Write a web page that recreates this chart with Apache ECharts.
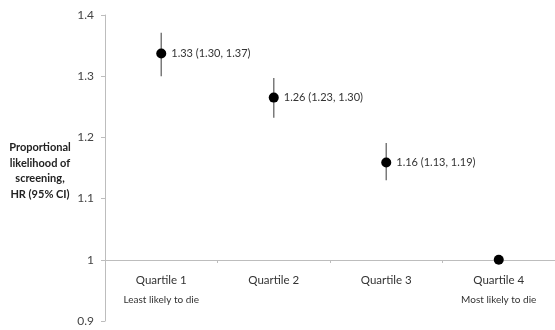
<!DOCTYPE html>
<html>
<head>
<meta charset="utf-8">
<script src="https://cdn.jsdelivr.net/npm/echarts@6/dist/echarts.min.js"></script>
<style>html,body{margin:0;padding:0;background:#fff}#c{width:555px;height:330px}</style>
</head>
<body>
<div id="c"></div>
<script>
var categories = ['Quartile 1', 'Quartile 2', 'Quartile 3', 'Quartile 4'];
var subLabels = ['Least likely to die', '', '', 'Most likely to die'];
var hr = [1.337, 1.265, 1.159, 1.0];
var ciLow = [1.30, 1.232, 1.13, null];
var ciHigh = [1.371, 1.297, 1.191, null];
var pointLabels = ['1.33 (1.30, 1.37)', '1.26 (1.23, 1.30)', '1.16 (1.13, 1.19)', ''];
var yTicks = {min: 0.9, max: 1.4, interval: 0.1};
var yTitle = 'Proportional\nlikelihood of\nscreening,\nHR (95% CI)';

var font = 'Lato, "Open Sans", sans-serif';
var chart = echarts.init(document.getElementById('c'));

var errData = [];
for (var i = 0; i < categories.length; i++) {
  if (ciLow[i] != null) errData.push([i, ciLow[i], ciHigh[i]]);
}

chart.setOption({
  animation: false,
  grid: {left: 105, top: 15, width: 454, height: 306},
  xAxis: {
    type: 'category',
    data: categories,
    offset: -61,
    axisLine: {lineStyle: {color: '#bdbdbd', width: 1}},
    axisTick: {show: true, length: 3, lineStyle: {color: '#bdbdbd'}},
    axisLabel: {
      interval: 0,
      hideOverlap: false,
      margin: 10,
      fontFamily: font,
      fontSize: 11.5,
      color: '#333',
      lineHeight: 20,
      formatter: function (v, idx) {
        return subLabels[idx] ? v + '\n{sub|' + subLabels[idx] + '}' : v;
      },
      rich: {sub: {fontFamily: font, fontSize: 10, color: '#333', lineHeight: 20}}
    },
    splitLine: {show: false}
  },
  yAxis: {
    type: 'value',
    min: yTicks.min,
    max: yTicks.max,
    interval: yTicks.interval,
    axisLine: {show: true, lineStyle: {color: '#bdbdbd'}},
    axisTick: {show: true, length: 4, lineStyle: {color: '#bdbdbd'}},
    axisLabel: {margin: 11, fontFamily: font, fontSize: 12, color: '#444',
      formatter: function (v) { return String(Math.round(v * 10) / 10); }},
    splitLine: {show: false}
  },
  graphic: [{
    type: 'text',
    x: 40, y: 140,
    style: {
      text: yTitle,
      font: 'bold 11px ' + font,
      fill: '#222',
      align: 'center',
      verticalAlign: 'top',
      lineHeight: 15.5
    }
  }],
  series: [{
    type: 'custom',
    data: errData,
    z: 1,
    renderItem: function (params, api) {
      var top = api.coord([api.value(0), api.value(2)]);
      var bot = api.coord([api.value(0), api.value(1)]);
      return {
        type: 'line',
        shape: {x1: top[0], y1: top[1], x2: bot[0], y2: bot[1]},
        style: {stroke: '#7a7a7a', lineWidth: 1.5}
      };
    }
  }, {
    type: 'scatter',
    data: hr,
    z: 3,
    symbol: 'circle',
    symbolSize: 10,
    itemStyle: {color: '#000', opacity: 1},
    label: {
      show: true,
      position: 'right',
      distance: 5,
      fontFamily: font,
      fontSize: 11,
      color: '#333',
      formatter: function (p) { return pointLabels[p.dataIndex]; }
    }
  }]
});
</script>
</body>
</html>
